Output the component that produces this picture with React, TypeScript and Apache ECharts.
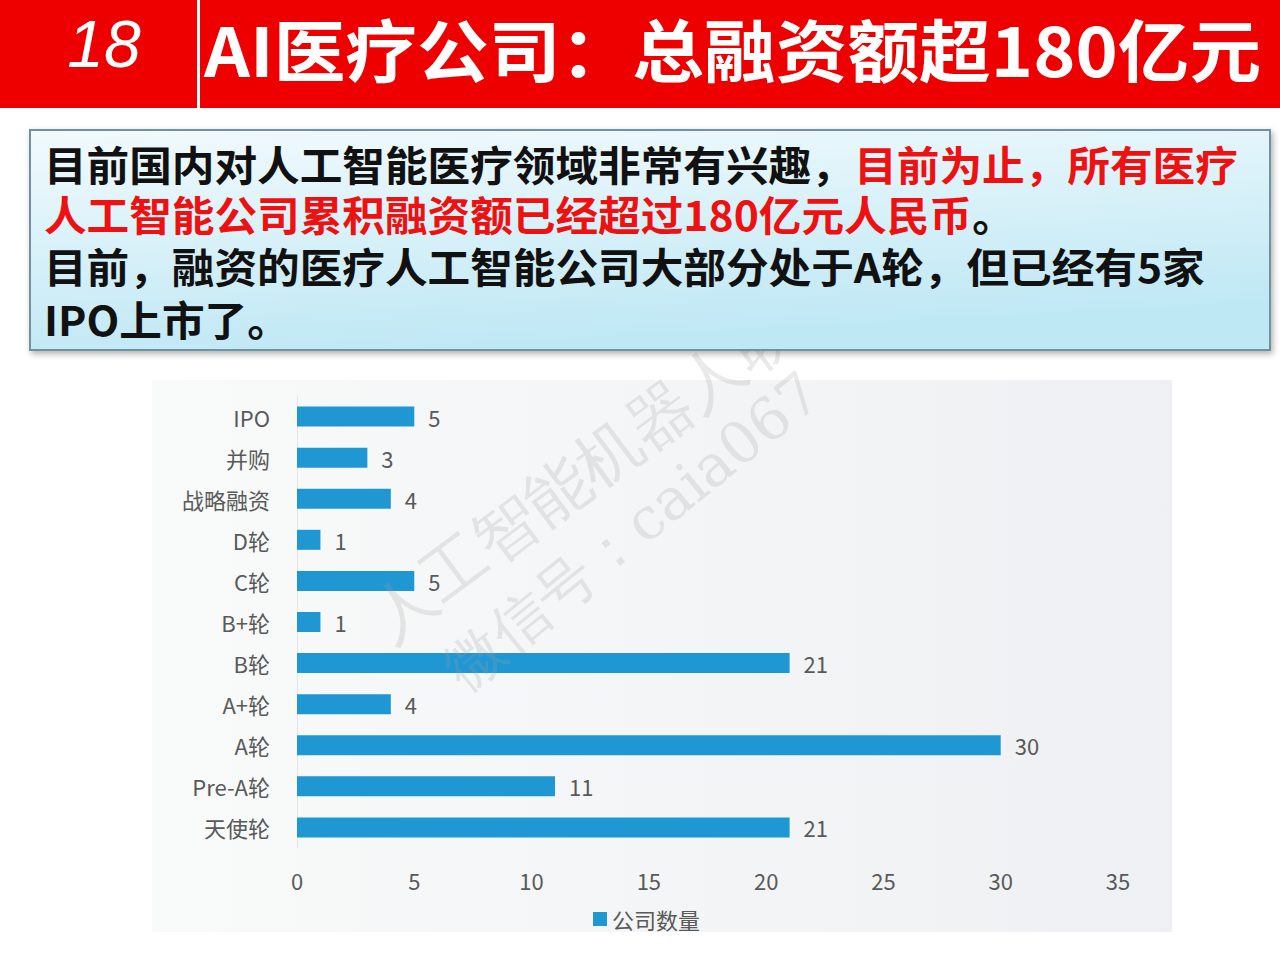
import React, { useEffect, useRef } from "react";
import * as echarts from "echarts";

const categories = ["IPO", "并购", "战略融资", "D轮", "C轮", "B+轮", "B轮", "A+轮", "A轮", "Pre-A轮", "天使轮"];
const counts = [5, 3, 4, 1, 5, 1, 21, 4, 30, 11, 21];
const seriesName = "公司数量";
const xTicks = { min: 0, max: 35, interval: 5 };

const titleNum = "18";
const titleText = "AI医疗公司：总融资额超180亿元";
const line1Black = "目前国内对人工智能医疗领域非常有兴趣，";
const line1Red = "目前为止，所有医疗";
const line2Red = "人工智能公司累积融资额已经超过180亿元人民币";
const line2Black = "。";
const line3 = "目前，融资的医疗人工智能公司大部分处于A轮，但已经有5家";
const line4 = "IPO上市了。";
const watermark1 = "人工智能机器人联盟";
const watermark2 = "微信号：caia067";

const FONT = "'Noto Sans CJK SC', 'Noto Sans', sans-serif";

export default function App() {
  const ref = useRef<HTMLDivElement>(null);
  useEffect(() => {
    if (!ref.current) return;
    const chart = echarts.init(ref.current, undefined, { renderer: "svg" });
    const boxText = (y: number, rich: string) => ({
      type: "text",
      x: 44,
      y,
      scaleX: 1.04,
      z: 10,
      style: {
        text: rich,
        verticalAlign: "middle",
        rich: {
          b: { fill: "#111111", fontSize: 41, lineHeight: 46, fontWeight: "bold", fontFamily: FONT },
          r: { fill: "#ee1111", fontSize: 41, lineHeight: 46, fontWeight: "bold", fontFamily: FONT },
        },
      },
    });
    chart.setOption({
      animation: false,
      backgroundColor: "#ffffff",
      textStyle: { fontFamily: FONT },
      graphic: [
        { type: "rect", shape: { x: 0, y: 0, width: 1280, height: 108 }, style: { fill: "#ee0000" }, z: 1 },
        { type: "rect", shape: { x: 197, y: 0, width: 3, height: 108 }, style: { fill: "#ffffff" }, z: 2 },
        {
          type: "text", x: 104, y: 44, z: 3,
          style: { text: titleNum, fill: "#ffffff", fontSize: 66, fontStyle: "italic", fontFamily: "'Liberation Sans', Arial, sans-serif", align: "center", verticalAlign: "middle" },
        },
        {
          type: "text", x: 204, y: 47, z: 3, scaleX: 1.055,
          style: { text: titleText, fill: "#ffffff", fontSize: 68, lineHeight: 72, fontWeight: "bold", fontFamily: FONT, align: "left", verticalAlign: "middle" },
        },
        {
          type: "rect", z: 5,
          shape: { x: 30, y: 130, width: 1240, height: 220 },
          style: {
            fill: new echarts.graphic.LinearGradient(0, 0, 0.3, 1, [
              { offset: 0, color: "#f2fafd" },
              { offset: 1, color: "#bfe8f5" },
            ]),
            stroke: "#6f93a3", lineWidth: 2,
            shadowBlur: 6, shadowColor: "rgba(0,0,0,0.3)", shadowOffsetX: 2, shadowOffsetY: 3,
          },
        },
        boxText(163, `{b|${line1Black}}{r|${line1Red}}`),
        boxText(213, `{r|${line2Red}}{b|${line2Black}}`),
        boxText(265, `{b|${line3}}`),
        boxText(318, `{b|${line4}}`),
        {
          type: "rect", z: 0,
          shape: { x: 152, y: 380, width: 1020, height: 552 },
          style: {
            fill: new echarts.graphic.LinearGradient(0, 0, 1, 0, [
              { offset: 0, color: "#f9fafa" },
              { offset: 0.5, color: "#f3f5f6" },
              { offset: 1, color: "#eef0f3" },
            ]),
          },
        },
        {
          type: "text", x: 378, y: 625, rotation: 0.64, z: 4,
          style: { text: watermark1, fill: "rgba(160,160,160,0.22)", fontSize: 64, fontFamily: "'DejaVu Serif', serif", align: "left", verticalAlign: "middle" },
        },
        {
          type: "text", x: 452, y: 676, rotation: 0.68, z: 4,
          style: { text: watermark2, fill: "rgba(160,160,160,0.22)", fontSize: 58, fontFamily: "'DejaVu Serif', serif", align: "left", verticalAlign: "middle" },
        },
      ],
      grid: { left: 297, right: 162, top: 396, bottom: 112, containLabel: false },
      legend: {
        data: [seriesName],
        left: 588,
        top: 903,
        icon: "rect",
        itemWidth: 14,
        itemHeight: 14,
        itemGap: 6,
        textStyle: { fontSize: 22, color: "#595959", fontFamily: FONT },
      },
      xAxis: {
        type: "value",
        min: xTicks.min,
        max: xTicks.max,
        interval: xTicks.interval,
        axisLine: { show: false },
        axisTick: { show: false },
        splitLine: { show: false },
        axisLabel: { fontSize: 22, color: "#595959", margin: 21, fontFamily: FONT },
      },
      yAxis: {
        type: "category",
        data: categories,
        inverse: true,
        axisLine: { show: true, lineStyle: { color: "#e4e6e8", width: 1 } },
        axisTick: { show: false },
        axisLabel: { fontSize: 22, color: "#595959", margin: 27, fontFamily: FONT },
      },
      series: [
        {
          name: seriesName,
          type: "bar",
          data: counts,
          barWidth: 20,
          itemStyle: { color: "#1f97d3" },
          label: { show: true, position: "right", distance: 14, fontSize: 22, color: "#595959", fontFamily: FONT },
        },
      ],
    });
    return () => chart.dispose();
  }, []);
  return <div ref={ref} style={{ position: "absolute", left: 0, top: 0, width: 1280, height: 960 }} />;
}
